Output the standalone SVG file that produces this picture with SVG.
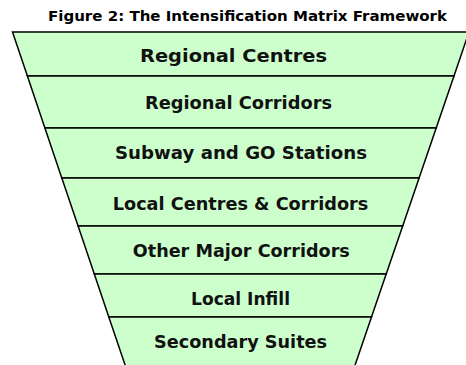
<svg xmlns="http://www.w3.org/2000/svg" width="466" height="365" viewBox="0 0 466 365">
<style>
.band{fill:#CCFFCC;stroke:#000;stroke-width:1.5;stroke-linejoin:miter}
.lbl{font-family:"DejaVu Sans","Liberation Sans",sans-serif;font-weight:bold;font-size:18px;fill:#111;text-anchor:middle}
.title{font-family:"DejaVu Sans","Liberation Sans",sans-serif;font-weight:bold;font-size:14px;fill:#000;text-anchor:middle}
</style>
<rect width="466" height="365" fill="#fff"/>
<text class="title" x="247.5" y="20.5" textLength="399" lengthAdjust="spacingAndGlyphs">Figure 2: The Intensification Matrix Framework</text>
<g id="regional-centres">
<polygon class="band" points="12.5,32 469,32 454,76 27.4,76"/>
<text class="lbl" x="233.5" y="61.5" textLength="187" lengthAdjust="spacingAndGlyphs">Regional Centres</text>
</g>
<g id="regional-corridors">
<polygon class="band" points="27.4,76 454,76 436.2,128 44.9,128"/>
<text class="lbl" x="238.5" y="108.5" textLength="187" lengthAdjust="spacingAndGlyphs">Regional Corridors</text>
</g>
<g id="subway-go-stations">
<polygon class="band" points="44.9,128 436.2,128 419.1,178 61.8,178"/>
<text class="lbl" x="241" y="159" textLength="252" lengthAdjust="spacingAndGlyphs">Subway and GO Stations</text>
</g>
<g id="local-centres-corridors">
<polygon class="band" points="61.8,178 419.1,178 402.7,226 78.1,226"/>
<text class="lbl" x="240.5" y="210" textLength="255.5" lengthAdjust="spacingAndGlyphs">Local Centres &amp; Corridors</text>
</g>
<g id="other-major-corridors">
<polygon class="band" points="78.1,226 402.7,226 386.2,274 94.3,274"/>
<text class="lbl" x="241.3" y="257.3" textLength="217" lengthAdjust="spacingAndGlyphs">Other Major Corridors</text>
</g>
<g id="local-infill">
<polygon class="band" points="94.3,274 386.2,274 371.5,317 108.8,317"/>
<text class="lbl" x="240.5" y="305" textLength="99" lengthAdjust="spacingAndGlyphs">Local Infill</text>
</g>
<g id="secondary-suites">
<polygon class="band" points="108.8,317 371.5,317 353.4,370 126.8,370"/>
<text class="lbl" x="240.6" y="348.3" textLength="173" lengthAdjust="spacingAndGlyphs">Secondary Suites</text>
</g>
<g id="connectors"/>
</svg>
